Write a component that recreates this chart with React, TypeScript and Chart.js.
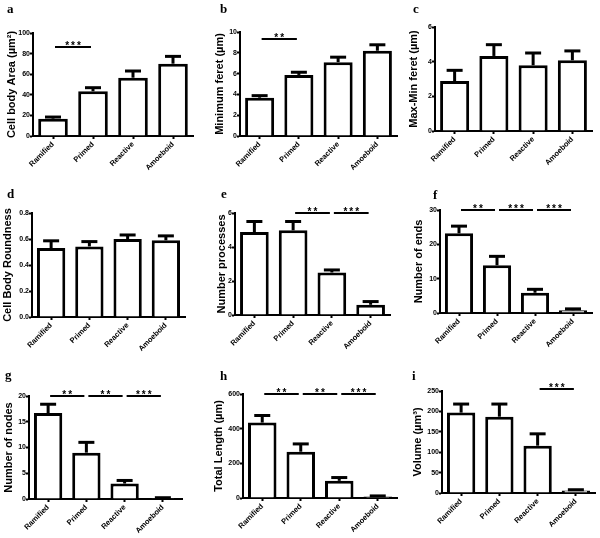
import React, { useEffect, useRef } from 'react';
import { Chart, registerables } from 'chart.js';

Chart.register(...registerables);

// ---------- data ----------
const categories = ['Ramified', 'Primed', 'Reactive', 'Amoeboid'];

const areaMean = [16.8, 43.4, 56.6, 70.2];
const areaSem = [1.6, 3.5, 6.5, 7.1];
const areaSig = [{ from: 0, to: 1, y: 86, label: '***' }];

const minFeretMean = [3.68, 5.87, 7.1, 8.2];
const minFeretSem = [0.2, 0.26, 0.48, 0.57];
const minFeretSig = [{ from: 0, to: 1, y: 9.3, label: '**' }];

const maxMinFeretMean = [2.88, 4.33, 3.79, 4.08];
const maxMinFeretSem = [0.62, 0.65, 0.71, 0.54];
const maxMinFeretSig: { from: number; to: number; y: number; label: string }[] = [];

const roundnessMean = [0.53, 0.543, 0.6, 0.59];
const roundnessSem = [0.056, 0.037, 0.031, 0.034];
const roundnessSig: { from: number; to: number; y: number; label: string }[] = [];

const processesMean = [4.88, 4.98, 2.5, 0.6];
const processesSem = [0.62, 0.52, 0.15, 0.19];
const processesSig = [
  { from: 1, to: 2, y: 6.0, label: '**' },
  { from: 2, to: 3, y: 6.0, label: '***' },
];

const endsMean = [23.2, 13.9, 5.9, 0.8];
const endsSem = [2.1, 2.6, 1.0, 0.4];
const endsSig = [
  { from: 0, to: 1, y: 30, label: '**' },
  { from: 1, to: 2, y: 30, label: '***' },
  { from: 2, to: 3, y: 30, label: '***' },
];

const nodesMean = [16.7, 9.0, 3.0, 0.15];
const nodesSem = [1.7, 2.0, 0.6, 0.1];
const nodesSig = [
  { from: 0, to: 1, y: 20, label: '**' },
  { from: 1, to: 2, y: 20, label: '**' },
  { from: 2, to: 3, y: 20, label: '***' },
];

const lengthMean = [435, 267, 99, 8];
const lengthSem = [41, 45, 19, 4];
const lengthSig = [
  { from: 0, to: 1, y: 600, label: '**' },
  { from: 1, to: 2, y: 600, label: '**' },
  { from: 2, to: 3, y: 600, label: '***' },
];

const volumeMean = [197, 187, 116, 6];
const volumeSem = [21, 31, 29, 2];
const volumeSig = [{ from: 2, to: 3, y: 254, label: '***' }];

// ---------- layout / style ----------
const FONT = '"Liberation Sans", Arial, sans-serif';
const TITLE_SIZE = 11;
const PAD_TOP = 24;
const PAD_RIGHT = 8;
const X_AXIS_H = 45;

const panels = [
  { letter: 'a', title: 'Cell body Area (µm²)', mean: areaMean, sem: areaSem, sig: areaSig, yMax: 100, step: 20, dec: 0, axisX: 33, yTop: 33, yBottom: 136, xEnd: 193, titleCx: 12, lx: 7, ly: 2 },
  { letter: 'b', title: 'Minimum feret (µm)', mean: minFeretMean, sem: minFeretSem, sig: minFeretSig, yMax: 10, step: 2, dec: 0, axisX: 240, yTop: 32, yBottom: 136, xEnd: 397, titleCx: 220, lx: 220, ly: 2 },
  { letter: 'c', title: 'Max-Min feret (µm)', mean: maxMinFeretMean, sem: maxMinFeretSem, sig: maxMinFeretSig, yMax: 6, step: 2, dec: 0, axisX: 435, yTop: 27, yBottom: 131, xEnd: 592, titleCx: 414, lx: 413, ly: 2 },
  { letter: 'd', title: 'Cell Body Roundness', mean: roundnessMean, sem: roundnessSem, sig: roundnessSig, yMax: 0.8, step: 0.2, dec: 1, axisX: 32, yTop: 213, yBottom: 317, xEnd: 185, titleCx: 8, lx: 7, ly: 187 },
  { letter: 'e', title: 'Number processes', mean: processesMean, sem: processesSem, sig: processesSig, yMax: 6, step: 2, dec: 0, axisX: 235, yTop: 213, yBottom: 315, xEnd: 390, titleCx: 222, lx: 221, ly: 187 },
  { letter: 'f', title: 'Number of ends', mean: endsMean, sem: endsSem, sig: endsSig, yMax: 30, step: 10, dec: 0, axisX: 440, yTop: 210, yBottom: 313, xEnd: 592, titleCx: 419, lx: 433, ly: 188 },
  { letter: 'g', title: 'Number of nodes', mean: nodesMean, sem: nodesSem, sig: nodesSig, yMax: 20, step: 5, dec: 0, axisX: 29, yTop: 396, yBottom: 499, xEnd: 182, titleCx: 9, lx: 5, ly: 368 },
  { letter: 'h', title: 'Total Length (µm)', mean: lengthMean, sem: lengthSem, sig: lengthSig, yMax: 600, step: 200, dec: 0, axisX: 243, yTop: 394, yBottom: 498, xEnd: 397, titleCx: 219, lx: 220, ly: 369 },
  { letter: 'i', title: 'Volume (µm³)', mean: volumeMean, sem: volumeSem, sig: volumeSig, yMax: 250, step: 50, dec: 0, axisX: 442, yTop: 391, yBottom: 493, xEnd: 595, titleCx: 418, lx: 412, ly: 369 },
];

type PanelCfg = (typeof panels)[number];

function BarPanel({ p }: { p: PanelCfg }) {
  const ref = useRef<HTMLCanvasElement>(null);
  const lh = TITLE_SIZE * 1.2;
  const left = Math.round(p.titleCx - lh / 2);
  const top = p.yTop - PAD_TOP;
  const width = Math.round(p.xEnd - left + PAD_RIGHT);
  const height = p.yBottom - p.yTop + PAD_TOP + X_AXIS_H;
  const yAxisW = p.axisX - left;

  useEffect(() => {
    if (!ref.current) return;
    const overlay = {
      id: 'overlay',
      afterDatasetsDraw(chart: any) {
        const { ctx } = chart;
        const x = chart.scales.x;
        const y = chart.scales.y;
        ctx.save();
        ctx.strokeStyle = '#000';
        ctx.fillStyle = '#000';
        ctx.lineCap = 'butt';
        // error bars (upper only)
        p.mean.forEach((m: number, i: number) => {
          const cx = x.getPixelForValue(i);
          const y0 = y.getPixelForValue(m);
          const y1 = y.getPixelForValue(m + p.sem[i]);
          ctx.lineWidth = 3;
          ctx.beginPath();
          ctx.moveTo(cx, y0);
          ctx.lineTo(cx, y1);
          ctx.stroke();
          ctx.beginPath();
          ctx.moveTo(cx - 8, y1);
          ctx.lineTo(cx + 8, y1);
          ctx.stroke();
        });
        // significance bars
        p.sig.forEach((s) => {
          const xa = x.getPixelForValue(s.from) + 2;
          const xb = x.getPixelForValue(s.to) - 2;
          const yy = Math.round(y.getPixelForValue(s.y));
          ctx.lineWidth = 2;
          ctx.beginPath();
          ctx.moveTo(xa, yy);
          ctx.lineTo(xb, yy);
          ctx.stroke();
          ctx.font = `bold 10px ${FONT}`;
          (ctx as any).letterSpacing = '2px';
          ctx.textAlign = 'center';
          ctx.textBaseline = 'alphabetic';
          ctx.fillText(s.label, (xa + xb) / 2 + 1, yy + 1.5);
        });
        ctx.restore();
      },
    };

    const chart = new Chart(ref.current, {
      type: 'bar',
      data: {
        labels: categories,
        datasets: [
          {
            data: p.mean,
            backgroundColor: '#ffffff',
            borderColor: '#000000',
            borderWidth: 3,
            barPercentage: 0.74,
            categoryPercentage: 1,
          },
        ],
      },
      options: {
        animation: false,
        responsive: false,
        maintainAspectRatio: false,
        layout: { padding: { top: PAD_TOP, right: PAD_RIGHT, left: 0, bottom: 0 } },
        plugins: { legend: { display: false }, tooltip: { enabled: false } },
        scales: {
          x: {
            grid: {
              display: true,
              drawOnChartArea: false,
              offset: false,
              tickLength: 3,
              tickWidth: 2,
              tickColor: '#000',
            },
            border: { display: true, color: '#000', width: 2 },
            ticks: {
              color: '#000',
              font: { family: FONT, weight: 'bold', size: 7.5 },
              maxRotation: 45,
              minRotation: 45,
              autoSkip: false,
              padding: 1,
            },
            afterFit: (s: any) => {
              s.height = X_AXIS_H;
            },
          },
          y: {
            min: 0,
            max: p.yMax,
            grid: {
              display: true,
              drawOnChartArea: false,
              tickLength: 3,
              tickWidth: 2,
              tickColor: '#000',
            },
            border: { display: true, color: '#000', width: 2 },
            ticks: {
              stepSize: p.step,
              color: '#000',
              font: { family: FONT, weight: 'bold', size: 7 },
              padding: 0,
              callback: (v: any) => Number(v).toFixed(p.dec),
            },
            title: {
              display: true,
              text: p.title,
              color: '#000',
              font: { family: FONT, weight: 'bold', size: TITLE_SIZE },
              padding: 0,
            },
            afterFit: (s: any) => {
              s.width = yAxisW;
            },
          },
        },
      } as any,
      plugins: [overlay],
    });
    return () => chart.destroy();
  }, []);

  return (
    <canvas
      ref={ref}
      width={width}
      height={height}
      style={{ position: 'absolute', left, top, width, height }}
    />
  );
}

export default function App() {
  return (
    <div
      style={{
        position: 'absolute',
        left: 0,
        top: 0,
        width: 600,
        height: 538,
        background: '#fff',
        overflow: 'hidden',
      }}
    >
      {panels.map((p) => (
        <BarPanel key={p.letter} p={p} />
      ))}
      {panels.map((p) => (
        <div
          key={'l' + p.letter}
          style={{
            position: 'absolute',
            left: p.lx,
            top: p.ly,
            fontFamily: '"Liberation Serif", "Times New Roman", serif',
            fontWeight: 'bold',
            fontSize: 13,
            lineHeight: '13px',
            color: '#000',
          }}
        >
          {p.letter}
        </div>
      ))}
    </div>
  );
}
